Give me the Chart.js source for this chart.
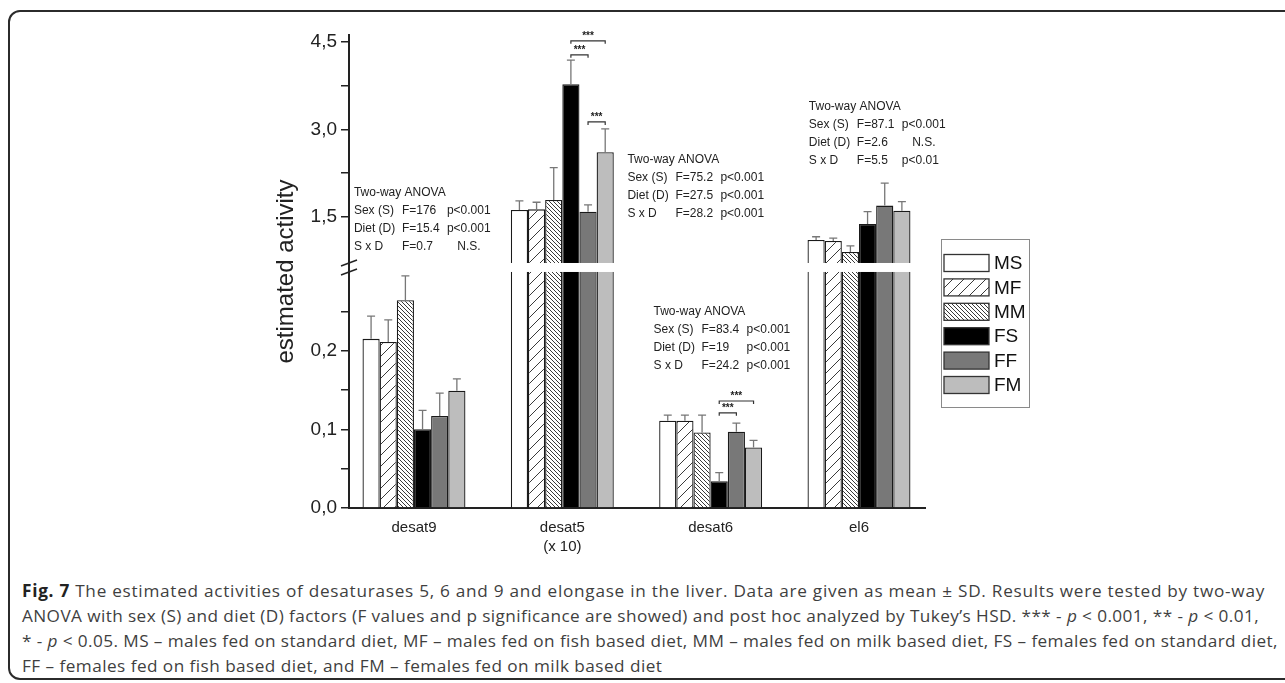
<!DOCTYPE html>
<html>
<head>
<meta charset="utf-8">
<script src="https://cdn.jsdelivr.net/npm/chart.js@4.4.0/dist/chart.umd.min.js"></script>
<style>
  html, body { margin: 0; padding: 0; background: #fff; width: 1285px; height: 683px; overflow: hidden; }
  #frame { position: absolute; left: 8px; top: 10px; width: 1310px; height: 670px; box-sizing: border-box;
           border: 2px solid #2b2b2b; border-radius: 12px; }
  #chart { position: absolute; left: 0; top: 0; }
  #caption { position: absolute; left: 22px; top: 578px; font: 17.2px/25px "Open Sans", sans-serif; letter-spacing: 0.45px;
             color: #3f3f3f; }
  #caption div { white-space: nowrap; width: max-content; }
  #caption b { color: #222; }
</style>
</head>
<body>
<div id="frame"></div>
<canvas id="chart" width="1285" height="570"></canvas>
<div id="caption">
  <div data-w="1243"><b>Fig. 7</b> The estimated activities of desaturases 5, 6 and 9 and elongase in the liver. Data are given as mean ± SD. Results were tested by two-way</div>
  <div data-w="1237">ANOVA with sex (S) and diet (D) factors (F values and p significance are showed) and post hoc analyzed by Tukey’s HSD. *** - <i>p</i> &lt; 0.001, ** - <i>p</i> &lt; 0.01,</div>
  <div data-w="1256">* - <i>p</i> &lt; 0.05. MS – males fed on standard diet, MF – males fed on fish based diet, MM – males fed on milk based diet, FS – females fed on standard diet,</div>
  <div>FF – females fed on fish based diet, and FM – females fed on milk based diet</div>
</div>
<script>
// данные: категории, группы, средние и SD
const CATEGORIES = [['desat9'], ['desat5', '(x 10)'], ['desat6'], ['el6']];
const GROUPS = ['MS', 'MF', 'MM', 'FS', 'FF', 'FM'];

const MS_MEAN = [0.215, 1.62, 0.111, 1.106];
const MF_MEAN = [0.211, 1.63, 0.111, 1.089];
const MM_MEAN = [0.264, 1.79, 0.096, 0.90];
const FS_MEAN = [0.100, 3.775, 0.034, 1.38];
const FF_MEAN = [0.117, 1.59, 0.097, 1.694];
const FM_MEAN = [0.149, 2.61, 0.077, 1.608];

const MS_SD = [0.029, 0.154, 0.007, 0.054];
const MF_SD = [0.028, 0.122, 0.007, 0.046];
const MM_SD = [0.031, 0.555, 0.022, 0.103];
const FS_SD = [0.024, 0.415, 0.011, 0.21];
const FF_SD = [0.029, 0.116, 0.011, 0.384];
const FM_SD = [0.015, 0.40, 0.009, 0.155];

// ось Y с разрывом
const Y_TICKS = [0, 0.05, 0.1, 0.15, 0.2, 0.25, 1.5, 2.25, 3.0, 3.75, 4.5];
const Y_LABELED = [0, 0.1, 0.2, 1.5, 3.0, 4.5];
const BREAK_LOW = 0.30;
const BREAK_HIGH = 0.71;
const Y_MAX = 4.62;

// значимость (категория, группа от, группа до, уровень)
const BRACKET_CAT = [1, 1, 1, 2, 2];
const BRACKET_FROM = [3, 3, 4, 3, 3];
const BRACKET_TO = [4, 5, 5, 4, 5];
const BRACKET_Y = [4.28, 4.52, 3.13, 0.121, 0.136];
const BRACKET_LABEL = ['***', '***', '***', '***', '***'];

// блоки Two-way ANOVA
const ANOVA_TEXT = [
  [['Two-way ANOVA'], ['Sex (S)', 'F=176', 'p<0.001'], ['Diet (D)', 'F=15.4', 'p<0.001'], ['S x D', 'F=0.7', 'N.S.']],
  [['Two-way ANOVA'], ['Sex (S)', 'F=75.2', 'p<0.001'], ['Diet (D)', 'F=27.5', 'p<0.001'], ['S x D', 'F=28.2', 'p<0.001']],
  [['Two-way ANOVA'], ['Sex (S)', 'F=83.4', 'p<0.001'], ['Diet (D)', 'F=19', 'p<0.001'], ['S x D', 'F=24.2', 'p<0.001']],
  [['Two-way ANOVA'], ['Sex (S)', 'F=87.1', 'p<0.001'], ['Diet (D)', 'F=2.6', 'N.S.'], ['S x D', 'F=5.5', 'p<0.01']]
];
const ANOVA_X = [0.595, 2.439, 2.615, 3.662];
const ANOVA_Y = [1.911, 2.477, 0.2497, 3.386];

const MEANS = [MS_MEAN, MF_MEAN, MM_MEAN, FS_MEAN, FF_MEAN, FM_MEAN];
const SDS = [MS_SD, MF_SD, MM_SD, FS_SD, FF_SD, FM_SD];

const LOWER_FRAC = 0.499;
const GAP_FRAC = 0.019;
const FONT = '"Liberation Sans", Arial, sans-serif';

// подпись: растягиваем строки до ширины как в оригинале
document.querySelectorAll('#caption div[data-w]').forEach(el => {
  const n = el.textContent.length;
  const w = el.getBoundingClientRect().width;
  const ls = parseFloat(getComputedStyle(el).letterSpacing) || 0;
  el.style.letterSpacing = (ls + (+el.dataset.w - w) / n) + 'px';
});

// шкала с разрывом: нижняя часть 0..BREAK_LOW, верхняя BREAK_HIGH..max
class BrokenScale extends Chart.LinearScale {
  _parts() {
    const h = this.bottom - this.top;
    const low = h * LOWER_FRAC, gap = h * GAP_FRAC;
    return { low, gap, high: h - low - gap };
  }
  getPixelForValue(v) {
    const p = this._parts();
    if (v <= BREAK_LOW) return this.bottom - v / BREAK_LOW * p.low;
    if (v >= BREAK_HIGH) return this.bottom - p.low - p.gap - (v - BREAK_HIGH) / (this.max - BREAK_HIGH) * p.high;
    return this.bottom - p.low - (v - BREAK_LOW) / (BREAK_HIGH - BREAK_LOW) * p.gap;
  }
  getValueForPixel(px) {
    const p = this._parts();
    const d = this.bottom - px;
    if (d <= p.low) return d / p.low * BREAK_LOW;
    if (d >= p.low + p.gap) return BREAK_HIGH + (d - p.low - p.gap) / p.high * (this.max - BREAK_HIGH);
    return BREAK_LOW + (d - p.low) / p.gap * (BREAK_HIGH - BREAK_LOW);
  }
}
BrokenScale.id = 'broken';
BrokenScale.defaults = Chart.LinearScale.defaults;
Chart.register(BrokenScale);

function hatch(step, back) {
  const c = document.createElement('canvas');
  c.width = step; c.height = step;
  const g = c.getContext('2d');
  g.fillStyle = '#fff';
  g.fillRect(0, 0, step, step);
  g.strokeStyle = '#3a3a3a';
  g.lineWidth = 1;
  g.beginPath();
  if (back) {
    g.moveTo(-1, -1); g.lineTo(step + 1, step + 1);
  } else {
    g.moveTo(-1, step + 1); g.lineTo(step + 1, -1);
  }
  g.stroke();
  return g.createPattern(c, 'repeat');
}

const FILLS = ['#ffffff', hatch(11, false), hatch(4, true), '#000000', '#787878', '#bdbdbd'];

const errorBars = {
  id: 'errorBars',
  afterDatasetsDraw(chart) {
    const ctx = chart.ctx, y = chart.scales.y, a = chart.chartArea;
    const p = y._parts();
    ctx.save();
    // белая полоса разрыва
    ctx.fillStyle = '#fff';
    ctx.fillRect(a.left + 1.5, a.bottom - p.low - p.gap, a.right - a.left, p.gap);
    ctx.strokeStyle = '#777';
    ctx.lineWidth = 1.3;
    SDS.forEach((sd, i) => {
      chart.getDatasetMeta(i).data.forEach((bar, j) => {
        const top = y.getPixelForValue(MEANS[i][j] + sd[j]);
        ctx.beginPath();
        ctx.moveTo(bar.x, bar.y);
        ctx.lineTo(bar.x, top);
        ctx.moveTo(bar.x - 4, top);
        ctx.lineTo(bar.x + 4, top);
        ctx.stroke();
      });
    });
    ctx.restore();
  }
};

const annotations = {
  id: 'annotations',
  afterDraw(chart) {
    const ctx = chart.ctx, x = chart.scales.x, y = chart.scales.y, a = chart.chartArea;
    const p = y._parts();
    ctx.save();
    // знак разрыва на оси
    ctx.strokeStyle = '#222';
    ctx.lineWidth = 1.5;
    [a.bottom - p.low - p.gap, a.bottom - p.low].forEach(yy => {
      ctx.beginPath();
      ctx.moveTo(a.left - 8, yy + 3);
      ctx.lineTo(a.left + 8, yy - 3);
      ctx.stroke();
    });
    // скобки значимости
    ctx.strokeStyle = '#333';
    ctx.lineWidth = 1.2;
    ctx.fillStyle = '#222';
    ctx.font = 'bold 10px ' + FONT;
    ctx.textAlign = 'center';
    ctx.textBaseline = 'middle';
    BRACKET_CAT.forEach((c, k) => {
      const x1 = chart.getDatasetMeta(BRACKET_FROM[k]).data[c].x;
      const x2 = chart.getDatasetMeta(BRACKET_TO[k]).data[c].x;
      const yy = y.getPixelForValue(BRACKET_Y[k]);
      ctx.beginPath();
      ctx.moveTo(x1, yy + 3);
      ctx.lineTo(x1, yy);
      ctx.lineTo(x2, yy);
      ctx.lineTo(x2, yy + 3);
      ctx.stroke();
      ctx.fillText(BRACKET_LABEL[k], (x1 + x2) / 2, yy - 5);
    });
    // текст ANOVA
    ctx.font = '12px ' + FONT;
    ctx.fillStyle = '#222';
    const cols = [0, 48, 93];
    ANOVA_TEXT.forEach((rows, b) => {
      const x0 = x.getPixelForValue(ANOVA_X[b]);
      const y0 = y.getPixelForValue(ANOVA_Y[b]);
      rows.forEach((row, r) => {
        row.forEach((t, c) => {
          if (t === 'N.S.') {
            ctx.textAlign = 'center';
            ctx.fillText(t, x0 + cols[c] + 22, y0 + r * 18);
          } else {
            ctx.textAlign = 'left';
            ctx.fillText(t, x0 + cols[c], y0 + r * 18);
          }
        });
      });
    });
    // легенда
    const lx = a.right + 16, ly = 239;
    ctx.strokeStyle = '#8a8a8a';
    ctx.lineWidth = 1;
    ctx.strokeRect(lx + 0.5, ly + 0.5, 88, 168);
    ctx.font = '19px ' + FONT;
    ctx.textAlign = 'left';
    chart.data.datasets.forEach((ds, i) => {
      const cy = ly + 24 + i * 24.4;
      ctx.fillStyle = ds.backgroundColor;
      ctx.fillRect(lx + 3, cy - 8.5, 45, 17);
      ctx.strokeStyle = '#333';
      ctx.lineWidth = 1.3;
      ctx.strokeRect(lx + 3, cy - 8.5, 45, 17);
      ctx.fillStyle = '#111';
      ctx.fillText(ds.label, lx + 53, cy + 1);
    });
    ctx.restore();
  }
};

const datasets = GROUPS.map((g, i) => ({
  label: g,
  data: MEANS[i].map((v, j) => ({ x: j + 1, y: v })),
  backgroundColor: FILLS[i],
  borderColor: '#1a1a1a',
  borderWidth: 1.3,
  categoryPercentage: 0.694,
  barPercentage: 1.0
}));

new Chart(document.getElementById('chart'), {
  type: 'bar',
  data: { datasets },
  options: {
    responsive: false,
    animation: false,
    devicePixelRatio: 1,
    layout: { padding: { left: 272, top: 35, right: 360, bottom: 10 } },
    plugins: { legend: { display: false }, tooltip: { enabled: false } },
    scales: {
      x: {
        type: 'linear',
        min: 0.562,
        max: 4.445,
        bounds: 'data',
        offset: false,
        afterBuildTicks: s => { s.ticks = CATEGORIES.map((c, i) => ({ value: i + 1 })); },
        afterFit: s => { s.height = 52; },
        grid: { display: false, drawTicks: false, offset: false },
        border: { display: true, color: '#222', width: 2 },
        ticks: {
          autoSkip: false,
          maxRotation: 0,
          padding: 10,
          color: '#222',
          font: { family: FONT, size: 15, lineHeight: 1.3 },
          callback: v => CATEGORIES[Math.round(v) - 1]
        }
      },
      y: {
        type: 'broken',
        min: 0,
        max: Y_MAX,
        bounds: 'data',
        afterBuildTicks: s => { s.ticks = Y_TICKS.map(v => ({ value: v })); },
        afterFit: s => { s.width = 77; },
        grid: { drawOnChartArea: false, drawTicks: true, tickLength: 8, color: '#222', lineWidth: 1.5 },
        border: { display: true, color: '#222', width: 2 },
        title: {
          display: true,
          text: 'estimated activity',
          color: '#222',
          padding: 0,
          font: { family: FONT, size: 24 }
        },
        ticks: {
          autoSkip: false,
          padding: 4,
          color: '#222',
          font: { family: FONT, size: 19 },
          callback: v => Y_LABELED.includes(v) ? v.toFixed(1).replace('.', ',') : ''
        }
      }
    }
  },
  plugins: [errorBars, annotations]
});
</script>
</body>
</html>
